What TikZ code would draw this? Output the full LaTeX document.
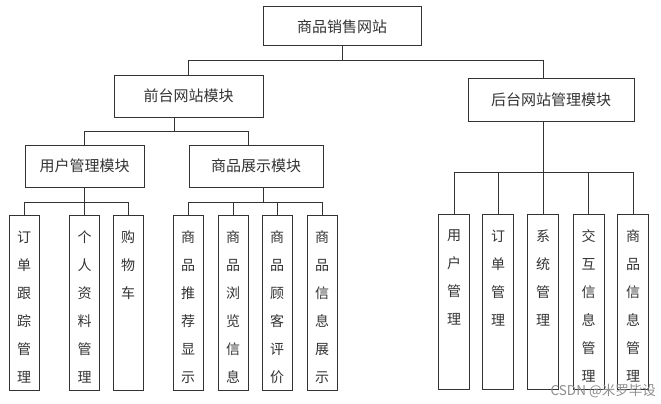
\documentclass[tikz,border=0pt]{standalone}
\usepackage{fontspec}
\setmainfont{Noto Sans CJK SC}
\usetikzlibrary{positioning}

\begin{document}
\begin{tikzpicture}[x=1pt,y=-1pt,
  box/.style={draw=black!80,line width=1pt,minimum height=42,inner sep=0pt,text=black!80,font=\fontsize{15}{18}\selectfont},
  leaf/.style={draw=black!80,line width=1pt,minimum width=30,minimum height=175,inner sep=0pt},
  leaftext/.style={align=center,inner sep=0pt,text=black!80,font=\fontsize{14}{28}\selectfont},
  conn/.style={draw=black!80,line width=1pt}]
\useasboundingbox (0,0) rectangle (661,404);
\node[box,minimum width=158,minimum height=39] (site) at (342,26.5) {商品销售网站};
\node[box,minimum width=149] (front) at (188.5,96) {前台网站模块};
\node[box,minimum width=166,minimum height=43] (back) at (551,99.5) {后台网站管理模块};
\node[box,minimum width=119] (user) at (84.5,166) {用户管理模块};
\node[box,minimum width=134] (goods) at (256,166) {商品展示模块};
\coordinate (bus0) at (0,61);
\coordinate (bus1) at (0,131);
\coordinate (bus2) at (0,202);
\coordinate (bus3) at (0,172);
\coordinate (bkn) at ([xshift=-8]back.north);
\coordinate (bks) at ([xshift=-8]back.south);
\coordinate (frs) at ([xshift=-14]front.south);
\coordinate (gdn) at ([xshift=-8]goods.north);
\coordinate (gds) at ([xshift=7]goods.south);
% leaves of the front part
\node[leaf] (u1) at (24,302.5) {};
\node[leaf] (u2) at (84.5,302.5) {};
\node[leaf] (u3) at (128,302.5) {};
\node[leaf] (g1) at (188,302.5) {};
\node[leaf] (g2) at (233,302.5) {};
\node[leaf] (g3) at (277,302.5) {};
\node[leaf] (g4) at (322,302.5) {};
\node[leaftext,below=16pt of u1.north] (u1t) {订\\单\\跟\\踪\\管\\理};
\node[leaftext,below=16pt of u2.north] (u2t) {个\\人\\资\\料\\管\\理};
\node[leaftext,below=16pt of u3.north] (u3t) {购\\物\\车};
\node[leaftext,below=16pt of g1.north] (g1t) {商\\品\\推\\荐\\显\\示};
\node[leaftext,below=16pt of g2.north] (g2t) {商\\品\\浏\\览\\信\\息};
\node[leaftext,below=16pt of g3.north] (g3t) {商\\品\\顾\\客\\评\\价};
\node[leaftext,below=16pt of g4.north] (g4t) {商\\品\\信\\息\\展\\示};
% leaves of the back part
\node[leaf,minimum width=31,minimum height=175] (m1) at (454,301.5) {};
\node[leaf,minimum width=31,minimum height=175] (m2) at (498,301.5) {};
\node[leaf,minimum width=31,minimum height=175] (m3) at (543,301.5) {};
\node[leaf,minimum width=31,minimum height=175] (m4) at (588.5,301.5) {};
\node[leaf,minimum width=31,minimum height=175] (m5) at (633,301.5) {};
\node[leaftext,below=16pt of m1.north] (m1t) {用\\户\\管\\理};
\node[leaftext,below=16pt of m2.north] (m2t) {订\\单\\管\\理};
\node[leaftext,below=16pt of m3.north] (m3t) {系\\统\\管\\理};
\node[leaftext,below=16pt of m4.north] (m4t) {交\\互\\信\\息\\管\\理};
\node[leaftext,below=16pt of m5.north] (m5t) {商\\品\\信\\息\\管\\理};
% connectors
\draw[conn] (site.south) -- (site.south |- bus0);
\draw[conn] (front.north) -- (front.north |- bus0) -- (bkn |- bus0) -- (bkn);
\draw[conn] (frs) -- (frs |- bus1);
\draw[conn] (user.north) -- (user.north |- bus1) -- (gdn |- bus1) -- (gdn);
\draw[conn] (user.south) -- (u2.north);
\draw[conn] (u1.north) -- (u1.north |- bus2) -- (u3.north |- bus2) -- (u3.north);
\draw[conn] (gds) -- (gds |- bus2);
\draw[conn] (g1.north) -- (g1.north |- bus2) -- (g4.north |- bus2) -- (g4.north);
\draw[conn] (g2.north) -- (g2.north |- bus2);
\draw[conn] (g3.north) -- (g3.north |- bus2);
\draw[conn] (bks) -- (m3.north);
\draw[conn] (m1.north) -- (m1.north |- bus3) -- (m5.north |- bus3) -- (m5.north);
\draw[conn] (m2.north) -- (m2.north |- bus3);
\draw[conn] (m4.north) -- (m4.north |- bus3);
\node[anchor=east,inner sep=0pt,text=black!45,font=\fontsize{13.5}{16}\selectfont] (mark) at (656,391) {CSDN @米罗毕设};
\end{tikzpicture}
\end{document}
